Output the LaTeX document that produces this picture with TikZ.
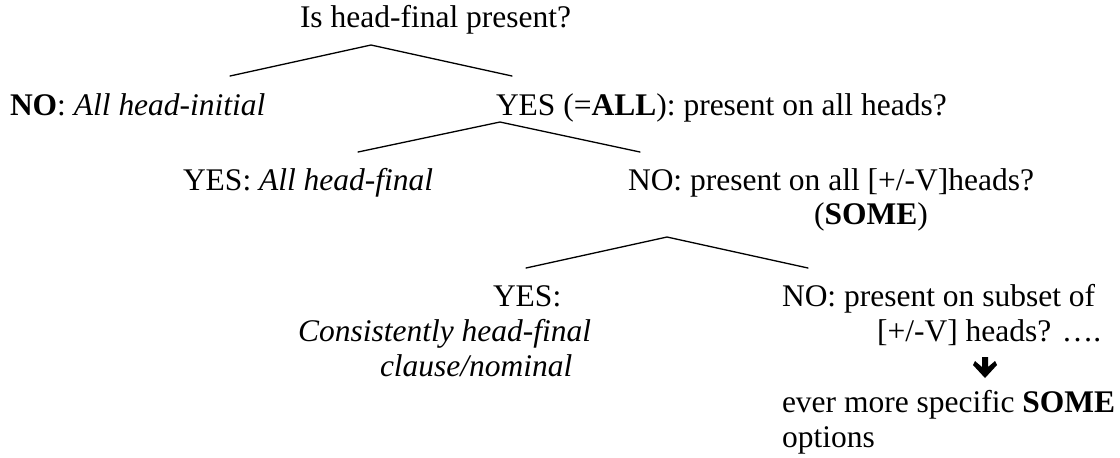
\documentclass[tikz,border=0pt]{standalone}
\usepackage{fontspec}
\setmainfont{Liberation Serif}
\begin{document}
\begin{tikzpicture}[x=0.381pt,y=-0.381pt,
  txt/.style={anchor=base west,inner sep=0pt,outer sep=0pt,
    font=\fontsize{12pt}{14pt}\selectfont},
  branch/.style={line width=0.5pt,line cap=round}]
\useasboundingbox (0,0) rectangle (1120,457);

% question at the root
\node[txt] (root) at (300,27) {Is head-final present?};
\coordinate (a1) at (371,45);
\coordinate (a1l) at (230,76);
\coordinate (a1r) at (512,76);
\draw[branch] (a1l) -- (a1) -- (a1r);

% first split
\node[txt] (no1) at (10,115) {\textbf{NO}: \textit{All head-initial}};
\node[txt] (yes1) at (496,115) {YES (=\textbf{ALL}): present on all heads?};
\coordinate (a2) at (500,122);
\coordinate (a2l) at (358,152);
\coordinate (a2r) at (640,152);
\draw[branch] (a2l) -- (a2) -- (a2r);

% second split
\node[txt] (yes2) at (183,190) {YES: \textit{All head-final}};
\node[txt] (no2) at (628,190) {NO: present on all [+/-V]heads?};
\node[txt] (some) at (814,224) {(\textbf{SOME})};
\coordinate (a3) at (667,237);
\coordinate (a3l) at (526,268);
\coordinate (a3r) at (808,268);
\draw[branch] (a3l) -- (a3) -- (a3r);

% third split
\node[txt] (yes3) at (493,306) {YES:};
\node[txt] (cons) at (298,341) {\textit{Consistently head-final}};
\node[txt] (clause) at (380,376) {\textit{clause/nominal}};
\node[txt] (no3) at (782,306) {NO: present on subset of};
\node[txt] (heads) at (877,341) {[+/-V] heads? ….};

% heavy down arrow
\fill (982,357) -- (988,357) -- (988,367) -- (995,361) -- (997,365) -- (985,378)
  -- (973,365) -- (975,361) -- (982,367) -- cycle;

\node[txt] (ever) at (782,412) {ever more specific \textbf{SOME}};
\node[txt] (opts) at (782,447) {options};
\end{tikzpicture}
\end{document}
